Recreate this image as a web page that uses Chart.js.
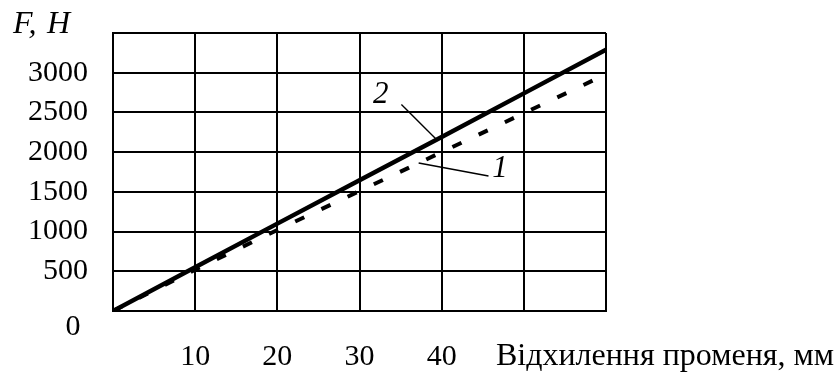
<!DOCTYPE html>
<html>
<head>
<meta charset="utf-8">
<script src="https://cdn.jsdelivr.net/npm/chart.js@4/dist/chart.umd.min.js"></script>
<style>
  html, body { margin: 0; padding: 0; background: #fff; }
  #wrap { width: 837px; height: 373px; }
</style>
</head>
<body>
<div id="wrap"><canvas id="chart"></canvas></div>
<script>
// Data
const deflection = [0, 10, 20, 30, 40, 50, 60];
const force1 = [0, 520, 1020, 1510, 2000, 2490, 2980]; // curve 1, dashed
const force2 = [0, 550, 1100, 1645, 2190, 2740, 3290]; // curve 2, solid
const xTickLabels = [10, 20, 30, 40];
const yTickLabels = [500, 1000, 1500, 2000, 2500, 3000];
const xTitle = "Відхилення променя, мм";

const FONT = "'Liberation Serif', 'Times New Roman', serif";
const FSIZE = 30;

function toPoints(xs, ys) {
  return xs.map((x, i) => ({ x: x, y: ys[i] }));
}

function valueAt(xs, ys, xv) {
  for (let i = 1; i < xs.length; i++) {
    if (xv <= xs[i]) {
      const t = (xv - xs[i - 1]) / (xs[i] - xs[i - 1]);
      return ys[i - 1] + t * (ys[i] - ys[i - 1]);
    }
  }
  return ys[ys.length - 1];
}

// Curve labels with leader lines, axis titles
const textPlugin = {
  id: "texts",
  afterDraw(chart) {
    const { ctx, scales: { x, y } } = chart;
    ctx.save();
    ctx.fillStyle = "#000";
    ctx.strokeStyle = "#000";

    // leader lines
    ctx.lineWidth = 1.4;
    const leaders = [
      { from: [35.1, 2600], toX: 39.4, ys: force2 },
      { from: [45.7, 1700], toX: 37.2, ys: force1 },
    ];
    leaders.forEach((l) => {
      ctx.beginPath();
      ctx.moveTo(x.getPixelForValue(l.from[0]), y.getPixelForValue(l.from[1]));
      ctx.lineTo(x.getPixelForValue(l.toX), y.getPixelForValue(valueAt(deflection, l.ys, l.toX)));
      ctx.stroke();
    });

    ctx.font = "italic " + (FSIZE + 1) + "px " + FONT;
    ctx.textAlign = "center";
    ctx.textBaseline = "middle";
    ctx.fillText("2", x.getPixelForValue(32.6), y.getPixelForValue(2725));
    ctx.fillText("1", x.getPixelForValue(47.1), y.getPixelForValue(1790));

    // axis titles
    ctx.font = "italic 32px " + FONT;
    ctx.textAlign = "left";
    ctx.fillText("F,", x.left - 100, y.top - 8);
    ctx.fillText("H", x.left - 66, y.top - 8);

    ctx.font = "32px " + FONT;
    ctx.fillText(xTitle, x.getPixelForValue(46.6), y.bottom + 46);

    ctx.font = FSIZE + "px " + FONT;
    ctx.textAlign = "center";
    ctx.fillText("0", x.left - 40, y.bottom + 16);
    ctx.restore();
  },
};

const ctx = document.getElementById("chart").getContext("2d");
const chart = new Chart(ctx, {
  type: "line",
  data: {
    datasets: [
      {
        label: "2",
        data: toPoints(deflection, force2),
        borderColor: "#000",
        borderWidth: 4.5,
        pointRadius: 0,
        tension: 0,
      },
      {
        label: "1",
        data: toPoints(deflection, force1),
        borderColor: "#000",
        borderWidth: 4,
        borderDash: [10, 19],
        pointRadius: 0,
        tension: 0,
      },
    ],
  },
  options: {
    responsive: true,
    maintainAspectRatio: false,
    animation: false,
    layout: { padding: { top: 33, right: 231, bottom: 0, left: 0 } },
    plugins: {
      legend: { display: false },
      tooltip: { enabled: false },
    },
    scales: {
      x: {
        type: "linear",
        min: 0,
        max: 60,
        afterFit: (s) => {
          s.height = 62;
          s.paddingLeft = 0;
          s.paddingRight = 0;
        },
        grid: { color: "#000", lineWidth: 2, drawTicks: false },
        border: { color: "#000", width: 2 },
        ticks: {
          stepSize: 10,
          autoSkip: false,
          padding: 28,
          color: "#000",
          font: { family: FONT, size: FSIZE },
          maxRotation: 0,
          callback: (v) => (xTickLabels.includes(v) ? String(v) : ""),
        },
      },
      y: {
        min: 0,
        max: 3500,
        afterFit: (s) => {
          s.width = 113;
          s.paddingTop = 0;
          s.paddingBottom = 0;
        },
        grid: { color: "#000", lineWidth: 2, drawTicks: false },
        border: { color: "#000", width: 2 },
        ticks: {
          stepSize: 500,
          autoSkip: false,
          padding: 25,
          color: "#000",
          font: { family: FONT, size: FSIZE },
          callback: (v) => (yTickLabels.includes(v) ? String(v) : ""),
        },
      },
    },
  },
  plugins: [textPlugin],
});
</script>
</body>
</html>
